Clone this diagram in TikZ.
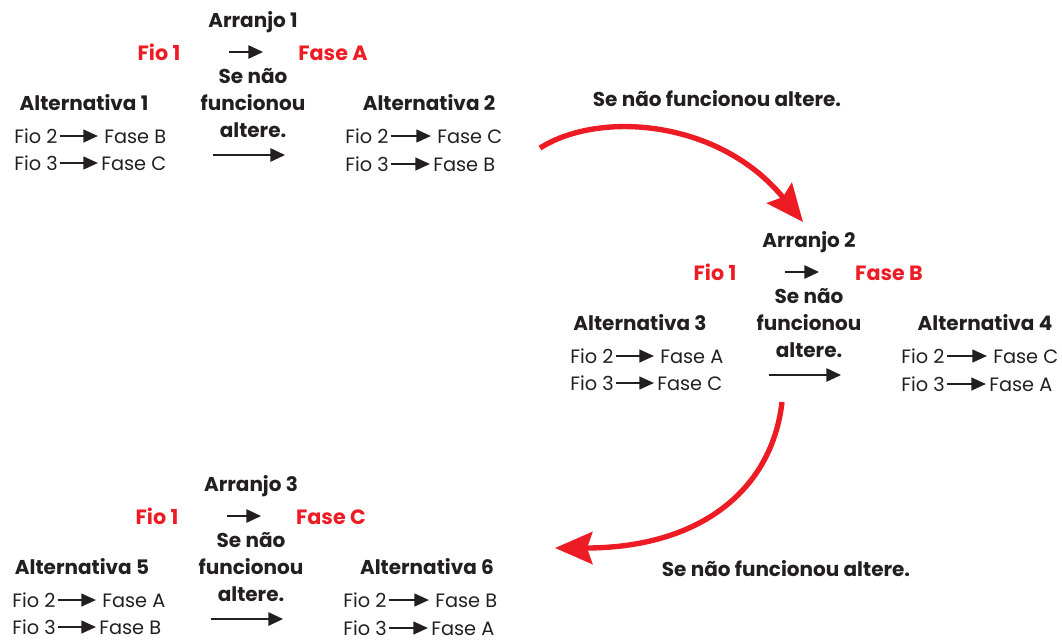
\documentclass[tikz,border=0pt]{standalone}
\usepackage{fontspec}
\setmainfont{Poppins}
\usetikzlibrary{arrows.meta}
\definecolor{myred}{HTML}{ED1C24}
\definecolor{ink}{HTML}{231F20}
\tikzset{
  txt/.style={inner sep=0pt, text=ink, font=\fontsize{14.5}{16}\selectfont, anchor=base west, text depth=0pt},
  btxt/.style={inner sep=0pt, text=ink, font=\fontsize{15}{17}\selectfont\bfseries, anchor=base},
  rtxt/.style={inner sep=0pt, text=myred, font=\fontsize{15.5}{17}\selectfont\bfseries, anchor=base},
  inarrow/.style={draw=ink, line width=1.7pt, -{Triangle[length=11pt,width=9.5pt]}},
  blkarrow/.style={draw=ink, line width=1.3pt, -{Triangle[length=11pt,width=10pt]}},
  redarrow/.style={draw=myred, line width=4pt, -{Stealth[length=28pt,width=24pt,inset=4pt]}},
}
% #1 arranjo number, #2 fase, #3 left alt number, #4 L row1, #5 L row2, #6 R row1, #7 R row2
\newcommand\arrblock[7]{%
  \node[btxt] (arr) at (253,27) {Arranjo #1};
  \node[rtxt] (fio) at (159,60) {Fio 1};
  \node[rtxt] (fase) at (333,60) {Fase #2};
  \coordinate (sa) at (229,52);
  \coordinate (sb) at (263,52);
  \draw[blkarrow] (sa) -- (sb);
  \node[btxt] (se1) at (253,83) {Se não};
  \node[btxt] (se2) at (253,110) {funcionou};
  \node[btxt] (se3) at (253,137) {altere.};
  \coordinate (la) at (213,155);
  \coordinate (lb) at (285,155);
  \draw[blkarrow] (la) -- (lb);
  \node[btxt] (altL) at (84,110) {Alternativa #3};
  \node[txt] (L1a) at (14,143) {Fio 2};
  \node[txt] (L1b) at (104,143) {Fase #4};
  \node[txt] (L2a) at (14,170) {Fio 3};
  \node[txt] (L2b) at (101,170) {Fase #5};
  \path (L1a.base east) ++(2,-7) coordinate (L1s) (L1b.base west) ++(-6,-7) coordinate (L1e);
  \draw[inarrow] (L1s) -- (L1e);
  \path (L2a.base east) ++(2,-7) coordinate (L2s) (L2b.base west) ++(-3,-7) coordinate (L2e);
  \draw[inarrow] (L2s) -- (L2e);
  \node[btxt] (altR) at (429,110) {Alternativa \the\numexpr#3+1\relax};
  \node[txt] (R1a) at (345,143) {Fio 2};
  \node[txt] (R1b) at (437,143) {Fase #6};
  \node[txt] (R2a) at (345,171) {Fio 3};
  \node[txt] (R2b) at (433,171) {Fase #7};
  \path (R1a.base east) ++(2,-7) coordinate (R1s) (R1b.base west) ++(-6,-7) coordinate (R1e);
  \draw[inarrow] (R1s) -- (R1e);
  \path (R2a.base east) ++(2,-7) coordinate (R2s) (R2b.base west) ++(-3,-7) coordinate (R2e);
  \draw[inarrow] (R2s) -- (R2e);
}
\begin{document}
\begin{tikzpicture}[x=0.75pt,y=-0.75pt]
\useasboundingbox (0,0) rectangle (1062,640);
\begin{scope}[name prefix=g1-]
  \arrblock{1}{A}{1}{B}{C}{C}{B}
\end{scope}
\begin{scope}[shift={(556,220)}, name prefix=g2-]
  \arrblock{2}{B}{3}{A}{C}{C}{A}
\end{scope}
\begin{scope}[shift={(-2,464)}, name prefix=g3-]
  \arrblock{3}{C}{5}{A}{B}{B}{A}
\end{scope}
\node[btxt] (lab1) at (717,106) {Se não funcionou altere.};
\node[btxt] (lab2) at (786,576) {Se não funcionou altere.};
\coordinate (r1s) at (540,148);
\coordinate (r1e) at (803,222);
\draw[redarrow] (r1s) .. controls (600,110) and (720,120) .. (r1e);
\coordinate (r2s) at (782,402);
\coordinate (r2e) at (555,548);
\draw[redarrow] (r2s) .. controls (772,490) and (700,548) .. (r2e);
\end{tikzpicture}
\end{document}
